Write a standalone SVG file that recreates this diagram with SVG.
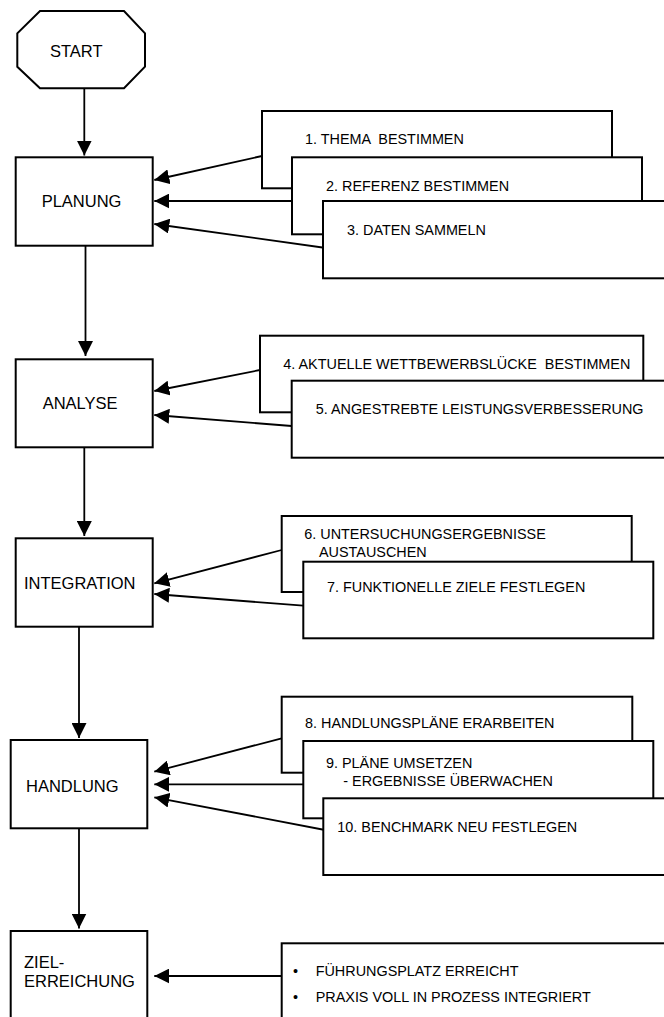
<svg xmlns="http://www.w3.org/2000/svg" width="664" height="1017" viewBox="0 0 664 1017">
<defs>
<style>
.box{fill:#fff;stroke:#000;stroke-width:2}
.ln{fill:none;stroke:#000;stroke-width:1.8}
.lbl{font-family:"Liberation Sans",Arial,sans-serif;font-size:16.5px;fill:#000}
.txt{font-family:"Liberation Sans",Arial,sans-serif;font-size:14.4px;fill:#000}
</style>
<marker id="ah" markerUnits="userSpaceOnUse" markerWidth="16" markerHeight="15" refX="15" refY="7.5" orient="auto" viewBox="0 0 16 15">
<path d="M0,0 L15,7.5 L0,15 Z" fill="#000"/>
</marker>
</defs>
<rect width="664" height="1017" fill="#fff"/>
<g id="connectors">
<line class="ln" x1="84.3" y1="88.3" x2="84.3" y2="155.5" marker-end="url(#ah)"/>
<line class="ln" x1="85.5" y1="245.7" x2="85.5" y2="356" marker-end="url(#ah)"/>
<line class="ln" x1="84.3" y1="447.3" x2="84.3" y2="536" marker-end="url(#ah)"/>
<line class="ln" x1="79" y1="626.7" x2="79" y2="738" marker-end="url(#ah)"/>
<line class="ln" x1="79" y1="828.3" x2="79" y2="928.5" marker-end="url(#ah)"/>
<line class="ln" x1="262" y1="156" x2="154.3" y2="180" marker-end="url(#ah)"/>
<line class="ln" x1="293" y1="201" x2="154.3" y2="201" marker-end="url(#ah)"/>
<line class="ln" x1="326" y1="248" x2="154.3" y2="224" marker-end="url(#ah)"/>
<line class="ln" x1="260" y1="370" x2="154.3" y2="391" marker-end="url(#ah)"/>
<line class="ln" x1="291.7" y1="426" x2="154.3" y2="415" marker-end="url(#ah)"/>
<line class="ln" x1="281.7" y1="550" x2="154.3" y2="583.3" marker-end="url(#ah)"/>
<line class="ln" x1="303.3" y1="605.7" x2="154.3" y2="594" marker-end="url(#ah)"/>
<line class="ln" x1="281.7" y1="738.3" x2="154.3" y2="771.7" marker-end="url(#ah)"/>
<line class="ln" x1="303.3" y1="784.3" x2="154.3" y2="784.3" marker-end="url(#ah)"/>
<line class="ln" x1="325" y1="830" x2="154.3" y2="797.3" marker-end="url(#ah)"/>
<line class="ln" x1="281.7" y1="976" x2="154.3" y2="976" marker-end="url(#ah)"/>
</g>
<g id="start">
<polygon class="box" points="40,11 124,11 145,33.3 145,66.7 124,88.3 40,88.3 17.3,66.7 17.3,33.3"/>
<text class="lbl" x="50" y="57.3">START</text>
</g>
<g id="planung">
<rect class="box" x="15.7" y="157.3" width="137" height="88.4"/>
<text class="lbl" x="41.7" y="206.7">PLANUNG</text>
</g>
<g id="step1">
<rect class="box" x="262" y="111" width="350" height="77.3"/>
<text class="txt" x="305" y="144.3" xml:space="preserve">1. THEMA  BESTIMMEN</text>
</g>
<g id="step2">
<rect class="box" x="292" y="157.3" width="350" height="77"/>
<text class="txt" x="326" y="190.7">2. REFERENZ BESTIMMEN</text>
</g>
<g id="step3">
<rect class="box" x="323" y="201" width="350" height="77.3"/>
<text class="txt" x="347" y="235">3. DATEN SAMMELN</text>
</g>
<g id="analyse">
<rect class="box" x="15.7" y="359.3" width="137" height="88"/>
<text class="lbl" x="42.7" y="409.3">ANALYSE</text>
</g>
<g id="step4">
<rect class="box" x="260" y="335.7" width="383.3" height="76.6"/>
<text class="txt" x="283.3" y="369.3" xml:space="preserve">4. AKTUELLE WETTBEWERBSLÜCKE  BESTIMMEN</text>
</g>
<g id="step5">
<rect class="box" x="291.7" y="380.7" width="380" height="77"/>
<text class="txt" x="315.7" y="414.3">5. ANGESTREBTE LEISTUNGSVERBESSERUNG</text>
</g>
<g id="integration">
<rect class="box" x="15.7" y="538.3" width="137" height="88.4"/>
<text class="lbl" x="24" y="589">INTEGRATION</text>
</g>
<g id="step6">
<rect class="box" x="281.7" y="516" width="350" height="76"/>
<text class="txt" x="304.3" y="539">6. UNTERSUCHUNGSERGEBNISSE</text>
<text class="txt" x="319" y="556.7">AUSTAUSCHEN</text>
</g>
<g id="step7">
<rect class="box" x="303.3" y="561.7" width="350" height="76.6"/>
<text class="txt" x="327" y="591.7">7. FUNKTIONELLE ZIELE FESTLEGEN</text>
</g>
<g id="handlung">
<rect class="box" x="10.7" y="740" width="136.6" height="88.3"/>
<text class="lbl" x="26" y="792.3">HANDLUNG</text>
</g>
<g id="step8">
<rect class="box" x="281.7" y="696.7" width="350.6" height="76"/>
<text class="txt" x="305" y="728.3">8. HANDLUNGSPLÄNE ERARBEITEN</text>
</g>
<g id="step9">
<rect class="box" x="303.3" y="741" width="350" height="77.3"/>
<text class="txt" x="326" y="768.3">9. PLÄNE UMSETZEN</text>
<text class="txt" x="343.3" y="786.3">- ERGEBNISSE ÜBERWACHEN</text>
</g>
<g id="step10">
<rect class="box" x="323.3" y="798.3" width="350" height="76.7"/>
<text class="txt" x="337.3" y="831.7">10. BENCHMARK NEU FESTLEGEN</text>
</g>
<g id="zielerreichung">
<rect class="box" x="10.7" y="931" width="136.6" height="100"/>
<text class="lbl" x="24" y="968.3">ZIEL-</text>
<text class="lbl" x="24" y="987.3">ERREICHUNG</text>
</g>
<g id="ergebnis">
<rect class="box" x="281.7" y="943.3" width="390" height="90"/>
<text class="txt" x="293" y="975.7">•</text>
<text class="txt" x="315.7" y="975.7">FÜHRUNGSPLATZ ERREICHT</text>
<text class="txt" x="293" y="1001.7">•</text>
<text class="txt" x="315.7" y="1001.7">PRAXIS VOLL IN PROZESS INTEGRIERT</text>
</g>
</svg>
